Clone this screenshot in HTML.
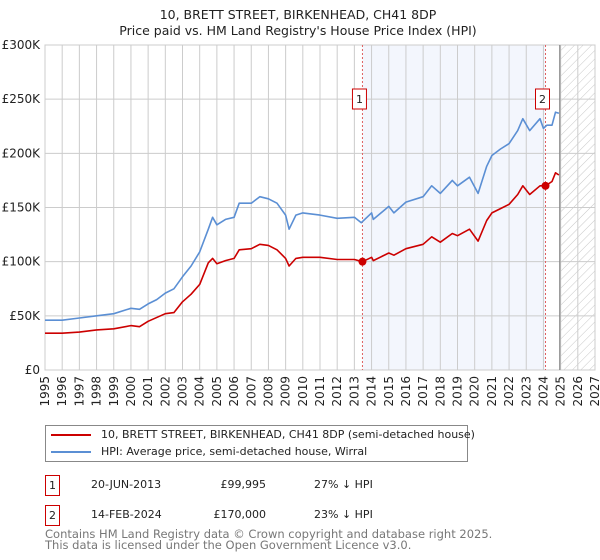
<!DOCTYPE html>
<html><head><meta charset="utf-8"><style>
body{margin:0;background:#fff;width:600px;height:560px;overflow:hidden;font-family:"DejaVu Sans","Liberation Sans",sans-serif;}
svg{position:absolute;left:0;top:0}
</style></head><body>
<svg id="chart" width="600" height="560" font-family="DejaVu Sans, Liberation Sans, sans-serif">
<defs><pattern id="hatch" width="6" height="6" patternUnits="userSpaceOnUse" patternTransform="rotate(45)"><line x1="0" y1="0" x2="0" y2="6" stroke="#c8c8c8" stroke-width="1"/></pattern></defs>
<text x="298" y="19" text-anchor="middle" font-size="12.5" fill="#222">10, BRETT STREET, BIRKENHEAD, CH41 8DP</text>
<text x="298" y="35" text-anchor="middle" font-size="12.5" fill="#222">Price paid vs. HM Land Registry's House Price Index (HPI)</text>
<g id="plot"></g>
</svg>
<script>
const yTicks=[0,50000,100000,150000,200000,250000,300000];
const yTickLabels=["£0","£50K","£100K","£150K","£200K","£250K","£300K"];
const xTicks=[1995,1996,1997,1998,1999,2000,2001,2002,2003,2004,2005,2006,2007,2008,2009,2010,2011,2012,2013,2014,2015,2016,2017,2018,2019,2020,2021,2022,2023,2024,2025,2026,2027];
const hpiYears=[1995,1996,1997,1998,1999,2000,2000.5,2001,2001.5,2002,2002.5,2003,2003.5,2004,2004.5,2004.75,2005,2005.5,2006,2006.3,2007,2007.5,2008,2008.5,2009,2009.2,2009.6,2010,2011,2012,2013,2013.4,2014,2014.1,2015,2015.3,2016,2017,2017.5,2018,2018.7,2019,2019.7,2020.2,2020.7,2021,2021.5,2022,2022.5,2022.8,2023.2,2023.8,2024,2024.2,2024.5,2024.7,2024.9];
const hpiValues=[46,46,48,50,52,57,56,61,65,71,75,86,96,109,130,141,134,139,141,154,154,160,158,154,143,130,143,145,143,140,141,136,145,139,151,145,155,160,170,163,175,170,178,163,188,198,204,209,221,232,221,232,223,226,226,238,237];
const priceYears=[1995,1996,1997,1998,1999,2000,2000.5,2001,2002,2002.5,2003,2003.5,2004,2004.5,2004.75,2005,2005.5,2006,2006.3,2007,2007.5,2008,2008.5,2009,2009.2,2009.6,2010,2011,2012,2013,2013.47,2014,2014.1,2015,2015.3,2016,2017,2017.5,2018,2018.7,2019,2019.7,2020.2,2020.7,2021,2021.5,2022,2022.5,2022.8,2023.2,2023.8,2024.12,2024.5,2024.7,2024.9];
const priceValues=[34,34,35,37,38,41,40,45,52,53,63,70,79,99,103,98,101,103,111,112,116,115,111,103,96,103,104,104,102,102,100,104,101,108,106,112,116,123,118,126,124,130,119,138,145,149,153,162,170,162,170,170,174,182,180];
const saleYears=[2013.47,2024.12];
const saleValues=[99995,170000];
const saleLabels=["1","2"];
const X0=45,X1=595,Y0=370,Y1=45;
const xs=y=>X0+(y-1995)/(2027-1995)*(X1-X0);
const ys=v=>Y0-v/300000*(Y0-Y1);
const NS="http://www.w3.org/2000/svg";
const g=document.getElementById('plot');
function mk(t,a){const e=document.createElementNS(NS,t);for(const k in a)e.setAttribute(k,a[k]);g.appendChild(e);return e;}
let e;
e=mk('rect',{x:xs(saleYears[0]),y:Y1,width:xs(saleYears[1])-xs(saleYears[0]),height:Y0-Y1,fill:'#eef2fc',opacity:0.7});


e=mk('rect',{x:xs(2025),y:Y1,width:X1-xs(2025),height:Y0-Y1,fill:'url(#hatch)'});


xTicks.forEach(t=>{e=mk('line',{x1:xs(t),x2:xs(t),y1:Y1,y2:Y0,stroke:'#ccc','stroke-width':1});


e=mk('text',{x:0,y:0,transform:`translate(${xs(t)+4},${Y0+6}) rotate(-90)`,'text-anchor':'end','font-size':'12',fill:'#222'});e.textContent=t;

});
yTicks.forEach((t,i)=>{e=mk('line',{x1:X0,x2:X1,y1:ys(t),y2:ys(t),stroke:'#ccc','stroke-width':1});


e=mk('text',{x:X0-5,y:ys(t)+4,'text-anchor':'end','font-size':'12',fill:'#222'});e.textContent=yTickLabels[i];

});
e=mk('rect',{x:X0,y:Y1,width:X1-X0,height:Y0-Y1,fill:'none',stroke:'#ccc'});


e=mk('line',{x1:xs(2024.95),x2:xs(2024.95),y1:Y1,y2:Y0,stroke:'#888','stroke-width':1.2});


saleYears.forEach((s,i)=>{e=mk('line',{x1:xs(s),x2:xs(s),y1:Y1,y2:Y0,stroke:'#e06060','stroke-width':1,'stroke-dasharray':'2,2'});

});
function path(xa,va,color,name){const d=xa.map((x,i)=>(i?'L':'M')+xs(x).toFixed(1)+','+ys(va[i]*1000).toFixed(1)).join('');
e=mk('path',{d:d,fill:'none',stroke:color,'stroke-width':1.6,'stroke-linejoin':'round'});

}
path(hpiYears,hpiValues,'#5b8fd4','hpi-line');
path(priceYears,priceValues,'#cc0000','price-line');
saleYears.forEach((s,i)=>{e=mk('circle',{cx:xs(s),cy:ys(saleValues[i]),r:4,fill:'#cc0000'});


e=mk('rect',{x:xs(s)-10,y:89,width:14,height:20,fill:'#fff',stroke:'#cc0000'});


e=mk('text',{x:xs(s)-3,y:103,'text-anchor':'middle','font-size':'11',fill:'#222'});e.textContent=saleLabels[i];

});
</script>
<div style="position:absolute;left:45px;top:425px;width:421px;height:35px;border:1px solid #888;font-size:11px;color:#222;">
<div style="position:absolute;left:5px;top:2px;white-space:nowrap;"><span style="display:inline-block;width:40px;height:2px;background:#cc0000;vertical-align:middle;margin-right:10px"></span>10, BRETT STREET, BIRKENHEAD, CH41 8DP (semi-detached house)</div>
<div style="position:absolute;left:5px;top:19px;white-space:nowrap;"><span style="display:inline-block;width:40px;height:2px;background:#5b8fd4;vertical-align:middle;margin-right:10px"></span>HPI: Average price, semi-detached house, Wirral</div>
</div>
<div style="position:absolute;left:0;top:475px;font-size:11px;color:#222;">
<div style="position:absolute;left:45px;top:0;width:13px;height:19px;border:1px solid #cc0000;text-align:center;line-height:19px">1</div>
<div style="position:absolute;left:91px;top:3px;white-space:nowrap">20-JUN-2013</div>
<div style="position:absolute;left:180px;width:86px;top:3px;text-align:right">£99,995</div>
<div style="position:absolute;left:314px;top:3px;white-space:nowrap">27% ↓ HPI</div>
</div>
<div style="position:absolute;left:0;top:505px;font-size:11px;color:#222;">
<div style="position:absolute;left:45px;top:0;width:13px;height:19px;border:1px solid #cc0000;text-align:center;line-height:19px">2</div>
<div style="position:absolute;left:91px;top:3px;white-space:nowrap">14-FEB-2024</div>
<div style="position:absolute;left:180px;width:86px;top:3px;text-align:right">£170,000</div>
<div style="position:absolute;left:314px;top:3px;white-space:nowrap">23% ↓ HPI</div>
</div>
<div style="position:absolute;left:45px;top:529px;font-size:11.5px;line-height:11px;color:#777;white-space:nowrap">Contains HM Land Registry data © Crown copyright and database right 2025.<br>This data is licensed under the Open Government Licence v3.0.</div>
</body></html>
